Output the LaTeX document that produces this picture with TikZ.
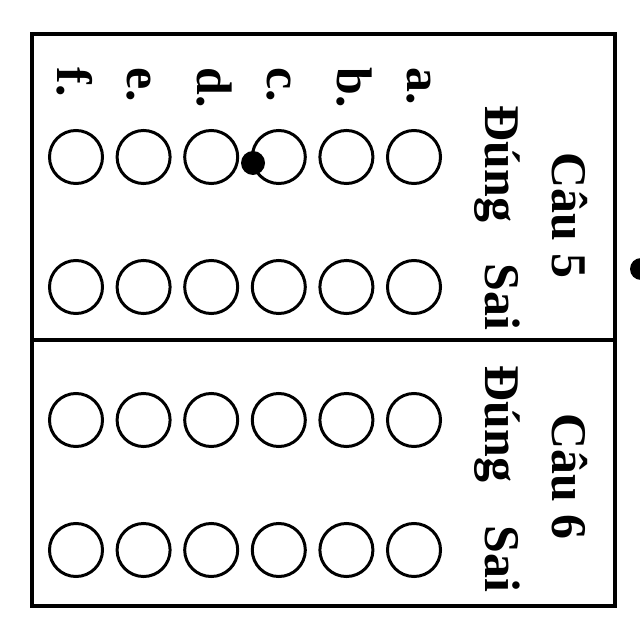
\documentclass[tikz,border=0pt]{standalone}
\usepackage{fontspec}
\setmainfont{Liberation Serif}

\tikzset{
  frame/.style={line width=1.1pt},
  bubble/.style={circle,draw,line width=0.85pt,minimum size=0.53cm,inner sep=0pt},
  lbl/.style={rotate=-90,anchor=base west,inner sep=0pt,font=\fontsize{14.2}{17}\selectfont\bfseries},
}

\begin{document}
\begin{tikzpicture}[x=0.01cm,y=-0.01cm]
        \useasboundingbox (0,0) rectangle (640,640);

        % Outer frame with the divider
        \draw[frame] (32,34) rectangle (615,606);
        \draw[frame] (32,340) -- (615,340);

        % Cau 5
        \node[lbl] (cau5) at (552,152) {Câu 5};
        \node[lbl] (dung5) at (485,105) {Đúng};
        \node[lbl] (sai5) at (485,263) {Sai};
        \foreach \l [count=\i from 0] in {a,b,c,d,e,f}{
          \node[lbl] (lab\l) at (407-70*\i,67) {\l.};
          \node[bubble] (d5\l) at (414-67.6*\i,157) {};
          \node[bubble] (s5\l) at (414-67.6*\i,287) {};
        }

        % Cau 6
        \node[lbl] (cau6) at (552,413) {Câu 6};
        \node[lbl] (dung6) at (485,365) {Đúng};
        \node[lbl] (sai6) at (485,525) {Sai};
        \foreach \l [count=\i from 0] in {a,b,c,d,e,f}{
          \node[bubble] (d6\l) at (414-67.6*\i,420) {};
          \node[bubble] (s6\l) at (414-67.6*\i,550) {};
        }

        % Marks
        \fill (253,163) circle (12);
        \fill (641,269) circle (11);

      \end{tikzpicture}
\end{document}
